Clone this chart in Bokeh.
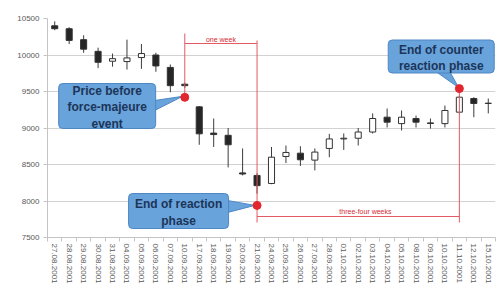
from bokeh.plotting import figure
from bokeh.models import Range1d, FixedTicker, Label
from bokeh.embed import file_html
from bokeh.resources import INLINE

# ---- data ----
dates = ["27.08.2001", "28.08.2001", "29.08.2001", "30.08.2001", "31.08.2001",
         "04.09.2001", "05.09.2001", "06.09.2001", "07.09.2001", "10.09.2001",
         "17.09.2001", "18.09.2001", "19.09.2001", "20.09.2001", "21.09.2001",
         "24.09.2001", "25.09.2001", "26.09.2001", "27.09.2001", "28.09.2001",
         "01.10.2001", "02.10.2001", "03.10.2001", "04.10.2001", "05.10.2001",
         "08.10.2001", "09.10.2001", "10.10.2001", "11.10.2001", "12.10.2001",
         "15.10.2001"]
opens = [10400, 10360, 10210, 10050, 9915, 9910, 9965, 10000, 9830, 9600,
         9290, 8930, 8900, 8385, 8350, 8240, 8610, 8655, 8560, 8720,
         8850, 8860, 8945, 9148, 9060, 9130, 9070, 9060, 9217, 9404, 9336]
highs = [10460, 10380, 10270, 10100, 10020, 10210, 10150, 10030, 9870, 9620,
         9300, 9130, 9000, 8720, 8380, 8740, 8760, 8750, 8720, 8920,
         8925, 9000, 9200, 9267, 9240, 9170, 9130, 9308, 9440, 9422, 9404]
lows = [10340, 10150, 10030, 9820, 9840, 9800, 9810, 9770, 9490, 9550,
        8770, 8740, 8460, 8350, 8100, 8230, 8520, 8480, 8420, 8600,
        8700, 8760, 8925, 9007, 8966, 9007, 8993, 9007, 9200, 9148, 9200]
closes = [10360, 10200, 10080, 9900, 9950, 9960, 10020, 9850, 9580, 9580,
          8920, 8910, 8770, 8370, 8210, 8600, 8665, 8565, 8670, 8850,
          8860, 8945, 9130, 9080, 9148, 9080, 9062, 9240, 9422, 9336, 9340]

marker_idx = [9, 14, 28]
marker_val = [9420, 7940, 9540]
callout_lines = [["Price before", "force-majeure", "event"],
                 ["End of reaction", "phase"],
                 ["End of counter", "reaction phase"]]
period_texts = ["one week", "three-four weeks"]
y_ticks = [7500, 8000, 8500, 9000, 9500, 10000, 10500]

# ---- figure ----
n = len(dates)
p = figure(width=501, height=291, output_backend="svg", toolbar_location=None,
           x_range=Range1d(-0.5, n - 0.5), y_range=Range1d(7500, 10500),
           min_border_left=47, min_border_right=6, min_border_top=18,
           min_border_bottom=54)
p.outline_line_color = None
p.background_fill_color = "white"

FONT = "Liberation Sans"
p.yaxis.ticker = FixedTicker(ticks=y_ticks)
p.yaxis.axis_line_color = "#c4c4c4"
p.yaxis.major_tick_line_color = "#c4c4c4"
p.yaxis.major_tick_out = 4
p.yaxis.major_tick_in = 0
p.yaxis.minor_tick_line_color = None
p.yaxis.major_label_text_font = FONT
p.yaxis.major_label_text_font_size = "8px"
p.yaxis.major_label_text_color = "#595959"
p.yaxis.major_label_standoff = 4

p.xaxis.ticker = FixedTicker(ticks=list(range(n)),
                             minor_ticks=[i - 0.5 for i in range(n + 1)])
p.xaxis.major_label_overrides = {i: d for i, d in enumerate(dates)}
p.xaxis.major_label_orientation = "vertical"
p.xaxis.axis_line_color = "#c4c4c4"
p.xaxis.major_tick_line_color = None
p.xaxis.major_tick_out = 4
p.xaxis.major_tick_in = 0
p.xaxis.minor_tick_line_color = "#c4c4c4"
p.xaxis.minor_tick_out = 4
p.xaxis.minor_tick_in = 0
p.xaxis.major_label_text_font = FONT
p.xaxis.major_label_text_font_size = "8px"
p.xaxis.major_label_text_color = "#595959"
p.xaxis.major_label_standoff = 2

p.xgrid.visible = False
p.ygrid.ticker = FixedTicker(ticks=y_ticks)
p.ygrid.grid_line_color = "#d2d2d2"

# ---- candles ----
xs = list(range(n))
p.segment(x0=xs, y0=highs, x1=xs, y1=lows, line_color="#3c3c3c", line_width=1)
up = [c >= o for o, c in zip(opens, closes)]
tops = [max(o, c) for o, c in zip(opens, closes)]
bots = [min(o, c) for o, c in zip(opens, closes)]
fills = ["white" if u else "#262626" for u in up]
p.vbar(x=xs, top=tops, bottom=bots, width=0.42, fill_color=fills,
       line_color="#333333", line_width=1)

# ---- period markers ----
RED = "#e25a63"
a, b, c = marker_idx
ypx = 500 / 36.5  # value units per screen pixel
dx = 1 / 14.47     # category units per screen pixel
wk_y = 10500 - 25 * ypx
p.line([a, a], [10500 - 15 * ypx, marker_val[0]], line_color=RED, line_width=1)
p.line([b, b], [10500 - 22 * ypx, 7500 + 15 * ypx], line_color=RED, line_width=1)
p.line([a, b], [wk_y, wk_y], line_color=RED, line_width=1)
tf_y = 7500 + 21 * ypx
p.line([b, c], [tf_y, tf_y], line_color=RED, line_width=1)
p.line([c, c], [marker_val[2], 7500 + 15 * ypx], line_color=RED, line_width=1)
p.add_layout(Label(x=(a + b) / 2, y=wk_y + 4 * ypx, text=period_texts[0],
                   text_font=FONT, text_font_size="7px", text_color="#d42a33",
                   text_align="center", text_baseline="middle"))
p.add_layout(Label(x=(b + c) / 2 + 0.5, y=tf_y + 5 * ypx, text=period_texts[1],
                   text_font=FONT, text_font_size="7px", text_color="#d42a33",
                   text_align="center", text_baseline="middle"))

# ---- callouts ----
BLUE = "#68a3db"
EDGE = "#4f87c4"
TXT = "#1d3558"
wedges_x = [[(154 - 54) * dx, (154 - 54) * dx, a - 0.15],
            [(227 - 54) * dx, (227 - 54) * dx, b - 0.15],
            [(437 - 54) * dx, (450 - 54) * dx, c - 0.05]]
wedges_y = [[10500 - 82 * ypx, 10500 - 92 * ypx, marker_val[0] + 1 * ypx],
            [10500 - 182 * ypx, 10500 - 194 * ypx, marker_val[1]],
            [10500 - 54 * ypx, 10500 - 54 * ypx, marker_val[2] + 1 * ypx]]
p.patches(wedges_x, wedges_y, fill_color=BLUE, line_color=EDGE, line_width=1)

# box centre (px), box size (px), first-line centre offset (px), line step (px)
boxes = [(106.5, 105.5, 97, 45, 90, 16.5),
         (178, 210.5, 100, 35, 203, 17),
         (441, 56, 106, 33, 49.5, 15.5)]
for (cxp, cyp, w, h, l0, step), lines in zip(boxes, callout_lines):
    cx = (cxp - 54) * dx
    cy = 10500 - (cyp - 18) * ypx
    p.rect(x=[cx], y=[cy], width=w, height=h, width_units="screen",
           height_units="screen", fill_color=BLUE, line_color=EDGE,
           line_width=1, border_radius=4)
    for k, t in enumerate(lines):
        ly = 10500 - (l0 + k * step - 18) * ypx
        p.add_layout(Label(x=cx, y=ly, text=t, text_font=FONT,
                           text_font_size="12px", text_font_style="bold",
                           text_color=TXT, text_align="center",
                           text_baseline="middle"))

p.scatter(marker_idx, marker_val, size=8, fill_color="#e3262d",
          line_color="#e3262d")

open("out.html", "w").write(file_html(p, INLINE))
